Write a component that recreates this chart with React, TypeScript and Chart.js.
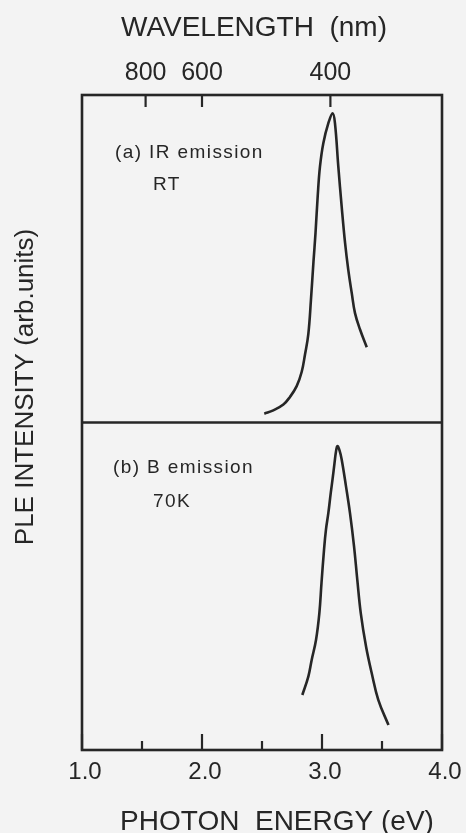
import React, { useEffect, useRef } from 'react';
import { Chart, registerables } from 'chart.js';

Chart.register(...registerables);

// Panel (a): IR emission, RT
const energyA = [2.519, 2.594, 2.678, 2.733, 2.789, 2.831, 2.858, 2.886, 2.908, 2.929, 2.946, 2.964, 2.983, 3.011, 3.053, 3.089, 3.108, 3.136, 3.164, 3.192, 3.219, 3.248, 3.275, 3.317, 3.373];
const intensityA = [0.027, 0.037, 0.055, 0.078, 0.111, 0.155, 0.207, 0.27, 0.375, 0.491, 0.579, 0.69, 0.781, 0.853, 0.914, 0.944, 0.914, 0.781, 0.659, 0.549, 0.466, 0.395, 0.334, 0.284, 0.23];

// Panel (b): B emission, 70K
const energyB = [2.836, 2.886, 2.914, 2.95, 2.978, 2.996, 3.017, 3.033, 3.053, 3.073, 3.089, 3.104, 3.116, 3.128, 3.146, 3.164, 3.2, 3.233, 3.267, 3.294, 3.323, 3.367, 3.414, 3.469, 3.554];
const intensityB = [0.168, 0.224, 0.275, 0.336, 0.418, 0.511, 0.612, 0.673, 0.724, 0.785, 0.83, 0.875, 0.91, 0.928, 0.915, 0.887, 0.805, 0.724, 0.622, 0.52, 0.418, 0.316, 0.235, 0.153, 0.076];

// Axes
const energyMajorTicks = [1.0, 2.0, 3.0, 4.0];
const energyMajorLabels = ['1.0', '2.0', '3.0', '4.0'];
const energyMinorTicks = [1.5, 2.5, 3.5];
const wavelengthLabels = ['800', '600', '400'];
const wavelengthTickEnergy = [1.53, 2.0, 3.07];

const topTitle = 'WAVELENGTH  (nm)';
const bottomTitle = 'PHOTON  ENERGY (eV)';
const yTitle = 'PLE INTENSITY (arb.units)';
const labelA = ['(a) IR emission', 'RT'];
const labelB = ['(b) B emission', '70K'];

const INK = '#262626';
const FONT = "'Liberation Sans', Arial, Helvetica, sans-serif";

const framePlugin = {
  id: 'framePlugin',
  afterDraw(chart: any) {
    const { ctx, chartArea: ca, scales } = chart;
    const x = scales.x;
    const ya = scales.ya;
    ctx.save();
    ctx.strokeStyle = INK;
    ctx.fillStyle = INK;
    ctx.lineWidth = 2.6;
    ctx.lineCap = 'butt';
    // frame
    ctx.strokeRect(ca.left, ca.top, ca.right - ca.left, ca.bottom - ca.top);
    // divider between panels
    const mid = ya.getPixelForValue(0);
    ctx.beginPath();
    ctx.moveTo(ca.left, mid);
    ctx.lineTo(ca.right, mid);
    ctx.stroke();
    // bottom ticks
    ctx.lineWidth = 2.2;
    energyMajorTicks.forEach((v) => {
      const px = x.getPixelForValue(v);
      ctx.beginPath();
      ctx.moveTo(px, ca.bottom);
      ctx.lineTo(px, ca.bottom - 16);
      ctx.stroke();
    });
    energyMinorTicks.forEach((v) => {
      const px = x.getPixelForValue(v);
      ctx.beginPath();
      ctx.moveTo(px, ca.bottom);
      ctx.lineTo(px, ca.bottom - 9);
      ctx.stroke();
    });
    // top ticks (wavelength)
    wavelengthTickEnergy.forEach((v) => {
      const px = x.getPixelForValue(v);
      ctx.beginPath();
      ctx.moveTo(px, ca.top);
      ctx.lineTo(px, ca.top + 12);
      ctx.stroke();
    });
    // bottom tick labels
    ctx.textAlign = 'center';
    ctx.textBaseline = 'alphabetic';
    ctx.font = `24px ${FONT}`;
    energyMajorTicks.forEach((v, i) => {
      ctx.fillText(energyMajorLabels[i], x.getPixelForValue(v) + 3, ca.bottom + 29);
    });
    // top tick labels
    ctx.font = `25px ${FONT}`;
    wavelengthTickEnergy.forEach((v, i) => {
      ctx.fillText(wavelengthLabels[i], x.getPixelForValue(v), ca.top - 15);
    });
    // axis titles
    ctx.font = `28px ${FONT}`;
    ctx.fillText(topTitle, 254, 36);
    ctx.fillText(bottomTitle, 277, 830);
    ctx.save();
    ctx.translate(33, 387);
    ctx.rotate(-Math.PI / 2);
    ctx.font = `26px ${FONT}`;
    ctx.fillText(yTitle, 0, 0);
    ctx.restore();
    // panel annotations
    ctx.textAlign = 'left';
    ctx.font = `19px ${FONT}`;
    (ctx as any).letterSpacing = '1.4px';
    ctx.fillText(labelA[0], ca.left + 33, ca.top + 63);
    ctx.fillText(labelA[1], ca.left + 71, ca.top + 95);
    ctx.fillText(labelB[0], ca.left + 31, mid + 50);
    ctx.fillText(labelB[1], ca.left + 71, mid + 84);
    ctx.restore();
  },
};

export default function App() {
  const canvasRef = useRef<HTMLCanvasElement | null>(null);

  useEffect(() => {
    const canvas = canvasRef.current;
    if (!canvas) return;
    const chart = new Chart(canvas, {
      type: 'line',
      data: {
        datasets: [
          {
            label: '(a) IR emission RT',
            data: energyA.map((e, i) => ({ x: e, y: intensityA[i] })),
            yAxisID: 'ya',
            borderColor: INK,
            borderWidth: 2.6,
            pointRadius: 0,
            tension: 0.4,
            fill: false,
          },
          {
            label: '(b) B emission 70K',
            data: energyB.map((e, i) => ({ x: e, y: intensityB[i] })),
            yAxisID: 'yb',
            borderColor: INK,
            borderWidth: 2.6,
            pointRadius: 0,
            tension: 0.4,
            fill: false,
          },
        ],
      },
      options: {
        animation: false,
        responsive: true,
        maintainAspectRatio: false,
        layout: { padding: { left: 82, right: 24, top: 95, bottom: 83 } },
        plugins: { legend: { display: false }, tooltip: { enabled: false } },
        scales: {
          x: { type: 'linear', min: 1, max: 4, display: false },
          ya: { type: 'linear', min: -1, max: 1, display: false },
          yb: { type: 'linear', min: 0, max: 2, display: false },
        },
      },
      plugins: [framePlugin],
    } as any);
    return () => chart.destroy();
  }, []);

  return (
    <div
      style={{
        position: 'absolute',
        left: 0,
        top: 0,
        width: 466,
        height: 833,
        background: '#f3f3f3',
      }}
    >
      <canvas ref={canvasRef} />
    </div>
  );
}
